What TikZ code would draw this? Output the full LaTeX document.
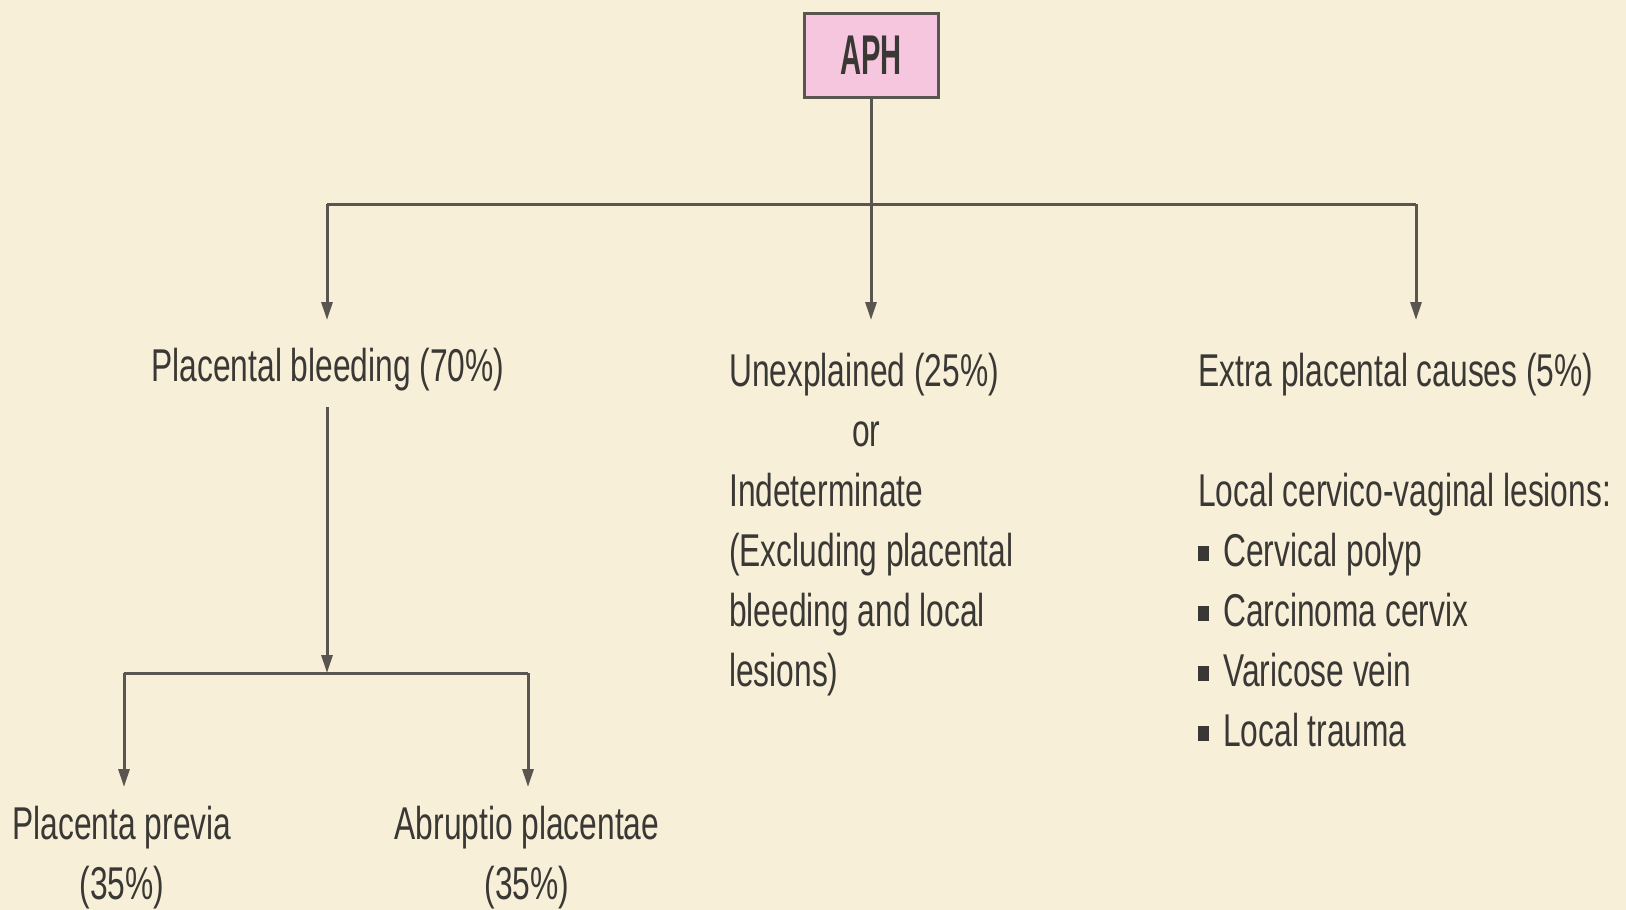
\documentclass[tikz,border=0pt]{standalone}
\usepackage{fontspec}
\setmainfont{Liberation Sans}[FakeStretch=0.69]
\newfontfamily\aphfont{Liberation Sans}[FakeStretch=0.52]
\usetikzlibrary{arrows.meta}
\definecolor{paper}{HTML}{F8EFD9}
\definecolor{ink}{HTML}{3A3835}
\definecolor{wire}{HTML}{5A5550}
\definecolor{boxpink}{HTML}{F6C6DE}
\newcommand{\firstline}{\rule{0pt}{36pt}}
\newcommand{\sqbullet}{\raisebox{5pt}{\rule{11pt}{15pt}}\hspace{14pt}}
\tikzset{
  wirel/.style={draw=wire, line width=3pt},
  arr/.style={wirel, -{Triangle[length=18pt,width=11pt]}},
  lbl/.style={text=ink, inner sep=0pt, font=\fontsize{46}{60}\selectfont},
  rootbox/.style={draw=wire, line width=3pt, fill=boxpink, minimum width=134pt,
    minimum height=84pt, inner sep=0pt, text=ink,
    font=\aphfont\fontsize{56}{56}\selectfont\bfseries}
}
\begin{document}
\begin{tikzpicture}[x=1pt,y=-1pt]
  \fill[paper] (0,0) rectangle (1626,910);
  \useasboundingbox (0,0) rectangle (1626,910);

  % root
  \node[rootbox] (aph) at (871,55) {APH};

  % first level
  \node[lbl, anchor=base] (pb) at (328,381) {Placental bleeding (70\%)};
  \node[lbl, anchor=north west, align=left] (une) at (729,350)
    {\firstline Unexplained (25\%)\\
     \hspace{123pt}or\\
     Indeterminate\\
     (Excluding placental\\
     bleeding and local\\
     lesions)};
  \node[lbl, anchor=north west, align=left] (ext) at (1198,350)
    {\firstline Extra placental causes (5\%)\\[60pt]
     Local cervico-vaginal lesions:\\
     \sqbullet Cervical polyp\\
     \sqbullet Carcinoma cervix\\
     \sqbullet Varicose vein\\
     \sqbullet Local trauma};

  % second level
  \node[lbl, anchor=north, align=center] (pp) at (122,803)
    {\firstline Placenta previa\\(35\%)};
  \node[lbl, anchor=north, align=center] (ap) at (527,803)
    {\firstline Abruptio placentae\\(35\%)};

  % junction points and arrow tips
  \coordinate (jL) at (327,204);
  \coordinate (jR) at (1416,204);
  \coordinate (tP) at (327,320);
  \coordinate (tU) at (871,320);
  \coordinate (tE) at (1416,320);
  \coordinate (pbOut) at (327,407);
  \coordinate (jB) at (327,673);
  \coordinate (lL) at (124,673);
  \coordinate (lR) at (528,673);
  \coordinate (tPP) at (124,787);
  \coordinate (tAP) at (528,787);

  % connectors
  \draw[arr] (aph.south) -- (tU);
  \draw[wirel] (jL) -- (jR);
  \draw[arr] (jL) -- (tP);
  \draw[arr] (jR) -- (tE);
  \draw[arr] (pbOut) -- (jB);
  \draw[wirel] (lL) -- (lR);
  \draw[arr] (lL) -- (tPP);
  \draw[arr] (lR) -- (tAP);
\end{tikzpicture}
\end{document}
